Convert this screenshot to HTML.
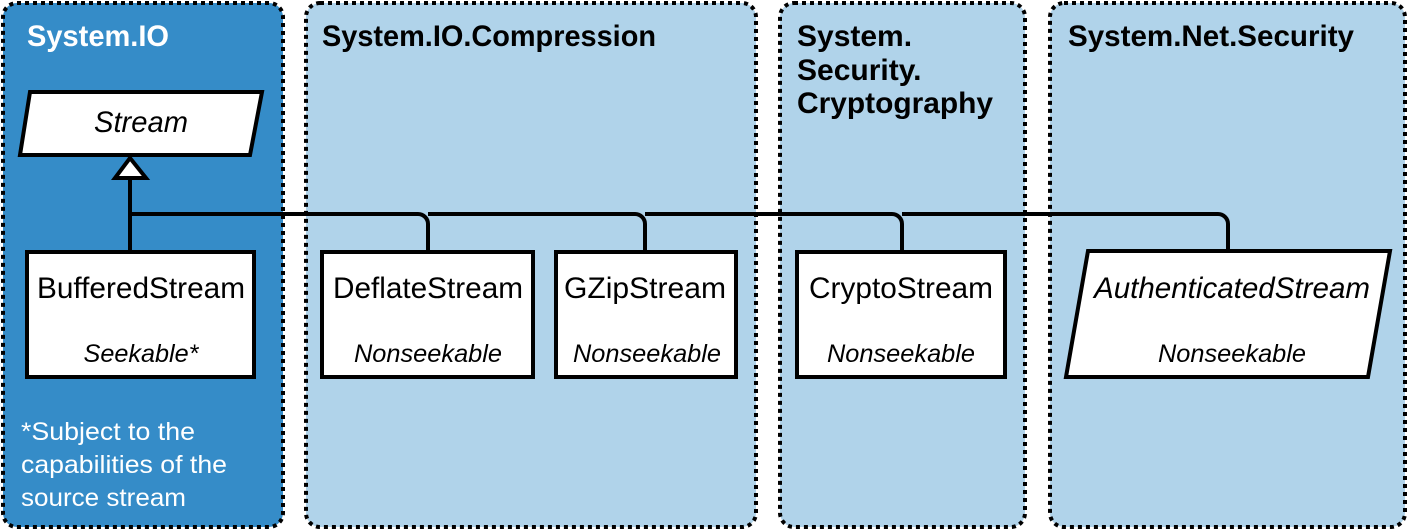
<!DOCTYPE html>
<html><head><style>body{margin:0;background:#fff}svg{display:block}</style></head><body>
<svg width="1408" height="530" viewBox="0 0 1408 530" xmlns="http://www.w3.org/2000/svg" font-family="Liberation Sans, sans-serif">
<g stroke="#000" stroke-width="4" stroke-dasharray="4 4">
<rect x="3" y="3" width="280" height="524" rx="14" fill="#358cc8"/>
<rect x="306" y="3" width="450" height="524" rx="14" fill="#b0d3ea"/>
<rect x="780" y="3" width="245" height="524" rx="14" fill="#b0d3ea"/>
<rect x="1050" y="3" width="355" height="524" rx="14" fill="#b0d3ea"/>
</g>
<g font-weight="bold" font-size="30">
<text x="27" y="46" fill="#fff" textLength="142" lengthAdjust="spacingAndGlyphs">System.IO</text>
<text x="322" y="46" textLength="334" lengthAdjust="spacingAndGlyphs">System.IO.Compression</text>
<text x="797" y="46">System.</text>
<text x="797" y="80">Security.</text>
<text x="797" y="113" textLength="196" lengthAdjust="spacingAndGlyphs">Cryptography</text>
<text x="1068" y="46" textLength="286" lengthAdjust="spacingAndGlyphs">System.Net.Security</text>
</g>
<g fill="none" stroke="#000" stroke-width="4">
<path d="M130 178 V252"/>
<path d="M130 214 H418 a10 10 0 0 1 10 10 V252"/>
<path d="M428 214 H635 a10 10 0 0 1 10 10 V252"/>
<path d="M645 214 H892 a10 10 0 0 1 10 10 V252"/>
<path d="M902 214 H1218 a10 10 0 0 1 10 10 V252"/>
</g>
<g fill="#fff" stroke="#000" stroke-width="4">
<polygon points="30,92 262,92 250,155 20,155"/>
<polygon points="130,158 146,178 115,178"/>
<rect x="27" y="252" width="227" height="125"/>
<rect x="322" y="252" width="211" height="125"/>
<rect x="556" y="252" width="180" height="125"/>
<rect x="797" y="252" width="208" height="125"/>
<polygon points="1088,251 1390,251 1368,377 1066,377"/>
</g>
<g font-size="30" text-anchor="middle">
<text x="141" y="132" font-style="italic" textLength="94" lengthAdjust="spacingAndGlyphs">Stream</text>
<text x="141" y="298" textLength="208" lengthAdjust="spacingAndGlyphs">BufferedStream</text>
<text x="428" y="298" textLength="190" lengthAdjust="spacingAndGlyphs">DeflateStream</text>
<text x="645" y="298" textLength="162" lengthAdjust="spacingAndGlyphs">GZipStream</text>
<text x="901" y="298" textLength="184" lengthAdjust="spacingAndGlyphs">CryptoStream</text>
<text x="1232" y="298" font-style="italic" textLength="276" lengthAdjust="spacingAndGlyphs">AuthenticatedStream</text>
</g>
<g font-size="25" font-style="italic" text-anchor="middle">
<text x="141" y="362" textLength="115" lengthAdjust="spacingAndGlyphs">Seekable*</text>
<text x="428" y="362" textLength="148" lengthAdjust="spacingAndGlyphs">Nonseekable</text>
<text x="647" y="362" textLength="148" lengthAdjust="spacingAndGlyphs">Nonseekable</text>
<text x="901" y="362" textLength="148" lengthAdjust="spacingAndGlyphs">Nonseekable</text>
<text x="1232" y="362" textLength="148" lengthAdjust="spacingAndGlyphs">Nonseekable</text>
</g>
<g font-size="25" fill="#fff">
<text x="21" y="440" textLength="174" lengthAdjust="spacingAndGlyphs">*Subject to the</text>
<text x="21" y="473" textLength="206" lengthAdjust="spacingAndGlyphs">capabilities of the</text>
<text x="21" y="506" textLength="165" lengthAdjust="spacingAndGlyphs">source stream</text>
</g>
</svg>
</body></html>
